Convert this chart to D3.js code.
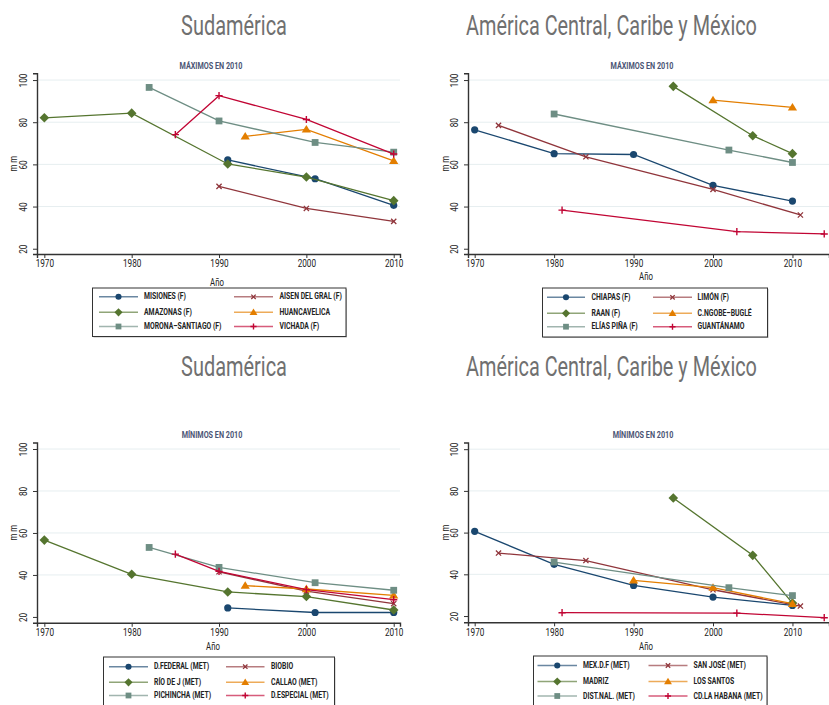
<!DOCTYPE html>
<html><head><meta charset="utf-8">
<script src="https://cdn.jsdelivr.net/npm/d3@7"></script>
<style>
body{margin:0;background:#fff;}
svg{display:block;}
text{font-family:Roboto,"Open Sans",sans-serif;}
</style></head>
<body>
<svg id="c" width="829" height="705"></svg>
<script>
// ---------- DATA ----------
const xTicks = [1970, 1980, 1990, 2000, 2010];
const yTicks = [20, 40, 60, 80, 100];
const seriesColors = ["#1a476f", "#90353b", "#55752f", "#e37e00", "#6e8e84", "#c10534"];
const seriesSymbols = ["circle", "x", "diamond", "triangle", "square", "plus"];

const titleLeft = "Sudamérica";
const titleRight = "América Central, Caribe y México";
const subMax = "MÁXIMOS EN 2010";
const subMin = "MÍNIMOS EN 2010";
const xLabel = "Año";
const yLabel = "m m";

// Panel 1: Sudamérica, máximos
const sudMaxNames = ["MISIONES (F)", "AISEN DEL GRAL (F)", "AMAZONAS (F)", "HUANCAVELICA", "MORONA\u2013SANTIAGO (F)", "VICHADA (F)"];
const sudMaxYears = [[1991, 2001, 2010], [1990, 2000, 2010], [1970, 1980, 1991, 2000, 2010], [1993, 2000, 2010], [1982, 1990, 2001, 2010], [1985, 1990, 2000, 2010]];
const sudMaxValues = [[62.1, 53.2, 40.6], [49.6, 39.1, 33.0], [82.1, 84.3, 60.2, 54.0, 42.8], [73.3, 76.6, 61.7], [96.5, 80.6, 70.4, 65.8], [74.1, 92.6, 81.3, 64.9]];

// Panel 2: América Central, Caribe y México, máximos
const camMaxNames = ["CHIAPAS (F)", "LIMÓN (F)", "RAAN (F)", "C.NGOBE\u2013BUGLÉ", "ELÍAS PIÑA (F)", "GUANTÁNAMO"];
const camMaxYears = [[1970, 1980, 1990, 2000, 2010], [1973, 1984, 2000, 2011], [1995, 2005, 2010], [2000, 2010], [1980, 2002, 2010], [1981, 2003, 2014]];
const camMaxValues = [[76.4, 65.1, 64.7, 50.0, 42.6], [78.5, 63.6, 48.1, 36.0], [97.0, 73.6, 65.1], [90.5, 87.0], [83.9, 66.8, 60.9], [38.3, 28.1, 27.0]];

// Panel 3: Sudamérica, mínimos
const sudMinNames = ["D.FEDERAL (MET)", "BIOBIO", "RÍO DE J (MET)", "CALLAO (MET)", "PICHINCHA (MET)", "D.ESPECIAL (MET)"];
const sudMinYears = [[1991, 2001, 2010], [1990, 2000, 2010], [1970, 1980, 1991, 2000, 2010], [1993, 2000, 2010], [1982, 1990, 2001, 2010], [1985, 1990, 2000, 2010]];
const sudMinValues = [[24.3, 22.1, 22.1], [41.5, 32.3, 26.3], [56.6, 40.3, 31.9, 29.7, 23.3], [34.9, 33.3, 30.3], [53.1, 43.6, 36.3, 32.7], [49.9, 41.7, 33.0, 28.2]];

// Panel 4: América Central, Caribe y México, mínimos
const camMinNames = ["MEX.D.F (MET)", "SAN JOSÉ (MET)", "MADRIZ", "LOS SANTOS", "DIST.NAL. (MET)", "CD.LA HABANA (MET)"];
const camMinYears = [[1970, 1980, 1990, 2000, 2010], [1973, 1984, 2000, 2011], [1995, 2005, 2010], [1990, 2000, 2010], [1980, 2002, 2010], [1981, 2003, 2014]];
const camMinValues = [[60.6, 44.8, 34.7, 29.1, 25.1], [50.2, 46.6, 32.6, 24.8], [76.6, 49.1, 26.2], [37.1, 33.6, 25.9], [45.9, 33.6, 29.8], [21.6, 21.4, 19.2]];

// ---------- LAYOUT ----------
const panels = [
  {title: titleLeft, titleW: 106, sub: subMax, names: sudMaxNames, years: sudMaxYears, values: sudMaxValues,
   titleX: 234, titleY: 35, subX: 211, subY: 69,
   xDom: [1969.16, 2010.72], xRange: [37, 400], yDom: [17.5, 103.2], yRange: [254, 73.3],
   yLabX: 14, yTickX: 24, xLabX: 217, xLabY: 286, leg: {x: 92.5, y: 288, w: 253.5, h: 48.5, rows: [296.8, 312.3, 326.5], c1: [99, 138], t1: 144, c2: [234, 273], t2: 279.5}},
  {title: titleRight, titleW: 291, sub: subMax, names: camMaxNames, years: camMaxYears, values: camMaxValues,
   titleX: 611.5, titleY: 35, subX: 642, subY: 69,
   xDom: [1969.16, 2014.6], xRange: [468, 829], yDom: [17.5, 103.2], yRange: [254, 73.3],
   yLabX: 446, yTickX: 455.5, xLabX: 646, xLabY: 280, leg: {x: 542.5, y: 288, w: 225, h: 49, rows: [297.3, 313.3, 326.7], c1: [547, 585], t1: 591.5, c2: [653, 692], t2: 697.5}},
  {title: titleLeft, titleW: 106, sub: subMin, names: sudMinNames, years: sudMinYears, values: sudMinValues,
   titleX: 234, titleY: 376, subX: 212, subY: 438,
   xDom: [1969.16, 2010.72], xRange: [37, 400], yDom: [17.2, 103.1], yRange: [622.8, 442.5],
   yLabX: 14, yTickX: 24, xLabX: 213, xLabY: 650, leg: {x: 103.5, y: 657, w: 231, h: 52, rows: [666.7, 682.3, 695.5], c1: [109, 148], t1: 154, c2: [226, 264.5], t2: 271}},
  {title: titleRight, titleW: 291, sub: subMin, names: camMinNames, years: camMinYears, values: camMinValues,
   titleX: 611.5, titleY: 376, subX: 643, subY: 438,
   xDom: [1969.16, 2014.6], xRange: [468, 829], yDom: [17.0, 103.2], yRange: [622.3, 442.5],
   yLabX: 446, yTickX: 455.5, xLabX: 646, xLabY: 650, leg: {x: 533.5, y: 656, w: 233.5, h: 53, rows: [665.5, 681.5, 696], c1: [537.5, 577], t1: 583, c2: [648.5, 687.5], t2: 693.5}}
];

const svg = d3.select("#c");
const CX = 0.78; // horizontal condensing of small text

function drawSymbol(g, type, x, y, color, scale) {
  const s = scale || 1;
  if (type === "circle") {
    g.append("circle").attr("cx", x).attr("cy", y).attr("r", 3.6 * s).attr("fill", color);
  } else if (type === "square") {
    const h = 3.4 * s;
    g.append("rect").attr("x", x - h).attr("y", y - h).attr("width", 2 * h).attr("height", 2 * h).attr("fill", color);
  } else if (type === "diamond") {
    const h = 4.8 * s;
    g.append("path").attr("d", `M${x},${y - h}L${x + h},${y}L${x},${y + h}L${x - h},${y}Z`).attr("fill", color);
  } else if (type === "triangle") {
    const h = 4.2 * s;
    g.append("path").attr("d", `M${x},${y - h * 1.05}L${x + h * 1.1},${y + h * 0.75}L${x - h * 1.1},${y + h * 0.75}Z`).attr("fill", color);
  } else if (type === "x") {
    const h = 2.6 * s;
    g.append("path").attr("d", `M${x - h},${y - h}L${x + h},${y + h}M${x - h},${y + h}L${x + h},${y - h}`)
      .attr("stroke", color).attr("stroke-width", 1.3).attr("fill", "none");
  } else if (type === "plus") {
    const h = 3.6 * s;
    g.append("path").attr("d", `M${x - h},${y}L${x + h},${y}M${x},${y - h}L${x},${y + h}`)
      .attr("stroke", color).attr("stroke-width", 1.4).attr("fill", "none");
  }
}

function ctext(g, x, y, str, size, opts) {
  const o = opts || {};
  const t = g.append("text")
    .attr("transform", `translate(${x},${y})${o.rot ? " rotate(" + o.rot + ")" : ""} scale(${o.sx || CX},1)`)
    .attr("text-anchor", o.anchor || "start").attr("font-size", size)
    .attr("fill", o.fill || "#222").text(str);
  if (o.weight) t.attr("font-weight", o.weight);
  if (o.mid) t.attr("dominant-baseline", "middle");
  if (o.family) t.attr("font-family", o.family);
  return t;
}

panels.forEach(p => {
  const g = svg.append("g");
  const x = d3.scaleLinear().domain(p.xDom).range(p.xRange);
  const y = d3.scaleLinear().domain(p.yDom).range(p.yRange);

  // titles (condensed to the reference width)
  const tt = ctext(g, p.titleX, p.titleY, p.title, 27.5, {anchor: "middle", fill: "#707070", sx: 1, family: "'Open Sans', sans-serif"});
  const natural = tt.node().getComputedTextLength();
  tt.attr("transform", `translate(${p.titleX},${p.titleY}) scale(${p.titleW / natural},1)`);
  ctext(g, p.subX, p.subY, p.sub, 8.5, {anchor: "middle", weight: "bold", fill: "#4a5474", sx: 0.85});

  // grid
  g.append("g").selectAll("line").data(yTicks.filter(t => t > 20)).join("line")
    .attr("x1", p.xRange[0]).attr("x2", p.xRange[1])
    .attr("y1", d => y(d)).attr("y2", d => y(d))
    .attr("stroke", "#e6eef0").attr("stroke-width", 1);

  // axes
  const ax = g.append("g").attr("transform", `translate(0,${p.yRange[0]})`)
    .call(d3.axisBottom(x).tickValues(xTicks).tickFormat(d3.format("d")).tickSize(4).tickPadding(2));
  ax.select(".domain").attr("stroke", "#333").attr("stroke-width", 1.4);
  ax.selectAll(".tick line").attr("stroke", "#333");
  ax.selectAll(".tick text").attr("font-size", 10.5).attr("fill", "#222").attr("font-family", null)
    .attr("transform", `scale(${CX},1)`);

  const ay = g.append("g").attr("transform", `translate(${p.xRange[0]},0)`)
    .call(d3.axisLeft(y).tickValues(yTicks).tickSize(4).tickPadding(2));
  ay.select(".domain").attr("stroke", "#333").attr("stroke-width", 1.4);
  ay.selectAll(".tick line").attr("stroke", "#333");
  ay.selectAll(".tick text").attr("font-size", 10.5).attr("fill", "#222").attr("font-family", null)
    .attr("text-anchor", "middle").attr("x", 0).attr("y", 0).attr("dy", null)
    .attr("transform", `translate(${p.yTickX - p.xRange[0]},0) rotate(-90) scale(${CX},1)`)
    .attr("dominant-baseline", "middle");

  // axis labels
  ctext(g, p.xLabX, p.xLabY, xLabel, 10, {anchor: "middle"});
  ctext(g, p.yLabX + 3, (p.yRange[0] + p.yRange[1]) / 2, yLabel, 10, {anchor: "middle", rot: -90});

  // series
  const line = d3.line().x(d => x(d[0])).y(d => y(d[1]));
  p.names.forEach((nm, i) => {
    const pts = p.years[i].map((yr, k) => [yr, p.values[i][k]]);
    const sg = g.append("g");
    sg.append("path").datum(pts).attr("d", line).attr("fill", "none")
      .attr("stroke", seriesColors[i]).attr("stroke-width", 1.3);
    pts.forEach(d => drawSymbol(sg, seriesSymbols[i], x(d[0]), y(d[1]), seriesColors[i]));
  });

  // legend
  const L = p.leg;
  const lg = g.append("g");
  lg.append("rect").attr("x", L.x + 1).attr("y", L.y + 1).attr("width", L.w).attr("height", L.h).attr("fill", "#bbb");
  lg.append("rect").attr("x", L.x).attr("y", L.y).attr("width", L.w).attr("height", L.h)
    .attr("fill", "#fff").attr("stroke", "#333").attr("stroke-width", 1);
  p.names.forEach((nm, i) => {
    const row = Math.floor(i / 2), col = i % 2;
    const ly = L.rows[row];
    const seg = col === 0 ? L.c1 : L.c2;
    const tx = col === 0 ? L.t1 : L.t2;
    lg.append("line").attr("x1", seg[0]).attr("x2", seg[1]).attr("y1", ly).attr("y2", ly)
      .attr("stroke", seriesColors[i]).attr("stroke-width", 1.6).attr("stroke-opacity", 0.65);
    drawSymbol(lg, seriesSymbols[i], (seg[0] + seg[1]) / 2, ly, seriesColors[i], 0.85);
    ctext(lg, tx, ly, nm, 9.5, {weight: "bold", mid: true, sx: 0.72});
  });
});
</script>
</body></html>
